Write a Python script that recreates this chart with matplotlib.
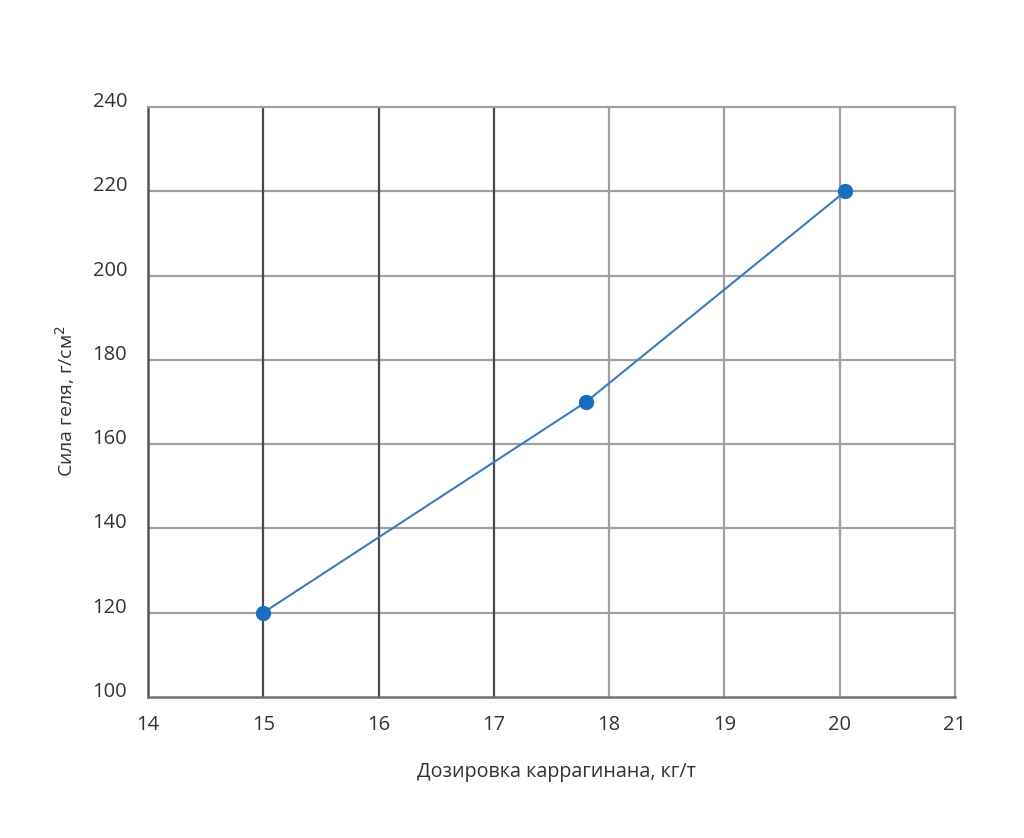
import matplotlib.pyplot as plt

# data
dose = [15, 17.8, 20.05]
strength = [120, 170, 220]
x_ticks = [14, 15, 16, 17, 18, 19, 20, 21]
y_ticks = [100, 120, 140, 160, 180, 200, 220, 240]
dark_x = [15, 16, 17]

plt.rcParams['font.family'] = ['Open Sans', 'DejaVu Sans']

fig = plt.figure(figsize=(10.24, 8.38), dpi=100)
ax = fig.add_axes([0.1445, 0.1683, 0.788, 0.704])

ax.set_xlim(14, 21)
ax.set_ylim(100, 240)

# grid lines
for y in y_ticks[1:-1]:
    ax.axhline(y, color='#a0a0a0', lw=1.6, zorder=1)
for x in x_ticks[1:-1]:
    c = '#4a4a4a' if x in dark_x else '#a0a0a0'
    ax.axvline(x, color=c, lw=1.6, zorder=1)

for side in ['top', 'right']:
    ax.spines[side].set_color('#a0a0a0')
    ax.spines[side].set_linewidth(1.6)
ax.spines['left'].set_color('#555555')
ax.spines['left'].set_linewidth(1.8)
ax.spines['bottom'].set_color('#707070')
ax.spines['bottom'].set_linewidth(1.8)

ax.plot(dose, strength, color='#3b7cc0', lw=1.5, zorder=3)
ax.plot(dose, strength, 'o', color='#1a6ec0', ms=10, zorder=4)

ax.set_xticks(x_ticks)
ax.set_yticks(y_ticks)
ax.tick_params(length=0, labelsize=14.5, colors='#333333')
ax.tick_params(axis='x', pad=13)
ax.tick_params(axis='y', pad=15)
for lbl in ax.get_yticklabels():
    lbl.set_verticalalignment('baseline')

ax.set_xlabel('Дозировка каррагинана, кг/т', fontsize=14.2, color='#333333')
ax.xaxis.set_label_coords(0.506, -0.127)
ax.xaxis.label.set_va('center')
ax.set_ylabel('Сила геля, г/см$^2$', fontsize=14, color='#333333')
ax.yaxis.set_label_coords(-0.103, 0.502)
ax.yaxis.label.set_va('center')

fig.savefig('out.png', dpi=100)
